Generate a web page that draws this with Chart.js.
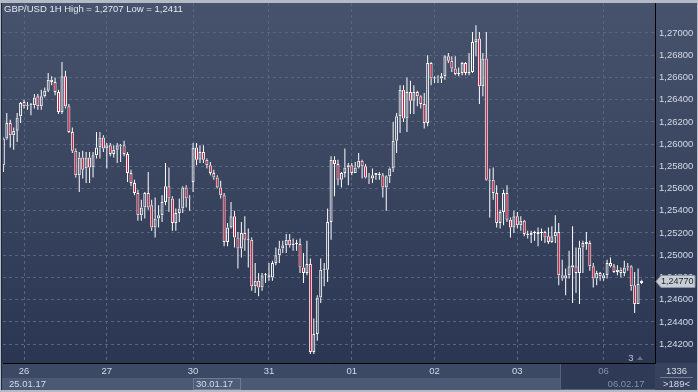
<!DOCTYPE html>
<html>
<head>
<meta charset="utf-8">
<script src="https://cdn.jsdelivr.net/npm/chart.js@4.4.1/dist/chart.umd.min.js"></script>
<style>
  html, body { margin: 0; padding: 0; background: #b4bbc6; }
  #wrap { width: 698px; height: 392px; }
</style>
</head>
<body>
<div id="wrap"><canvas id="chart" width="698" height="392"></canvas></div>
<script>
// GBP/USD 1H candles, 25.01.17 - 06.02.17
const opens = [
  1.2581,1.2605,1.2619,1.2608,1.2612,1.2625,1.2638,1.2634,1.2635,1.2635,
  1.2643,1.2634,1.2643,1.2648,1.2658,1.2656,1.2647,1.2629,1.2661,1.2634,
  1.2611,1.2594,1.2572,1.2588,1.2578,1.2588,1.2579,1.2590,1.2597,1.2606,
  1.2596,1.2599,1.2591,1.2595,1.2599,1.2599,1.2591,1.2574,1.2565,1.2556,
  1.2536,1.2543,1.2556,1.2545,1.2525,1.2533,1.2536,1.2548,1.2562,1.2551,
  1.2529,1.2538,1.2542,1.2561,1.2551,1.2566,1.2597,1.2586,1.2593,1.2586,
  1.2581,1.2574,1.2570,1.2561,1.2554,1.2512,1.2525,1.2535,1.2516,1.2506,
  1.2520,1.2514,1.2514,1.2472,1.2477,1.2471,1.2482,1.2482,1.2480,1.2493,
  1.2500,1.2506,1.2509,1.2514,1.2509,1.2510,1.2510,1.2489,1.2484,1.2492,
  1.2413,1.2429,1.2462,1.2487,1.2487,1.2530,1.2586,1.2582,1.2568,1.2574,
  1.2579,1.2581,1.2574,1.2579,1.2585,1.2580,1.2570,1.2569,1.2572,1.2572,
  1.2572,1.2561,1.2571,1.2578,1.2603,1.2625,1.2649,1.2623,1.2647,1.2639,
  1.2647,1.2643,1.2636,1.2619,1.2673,1.2659,1.2659,1.2659,1.2661,1.2679,
  1.2675,1.2668,1.2663,1.2664,1.2673,1.2664,1.2665,1.2692,1.2695,1.2652,
  1.2677,1.2568,1.2568,1.2556,1.2529,1.2539,1.2556,1.2532,1.2525,1.2535,
  1.2527,1.2531,1.2519,1.2518,1.2520,1.2519,1.2520,1.2521,1.2517,1.2512,
  1.2517,1.2521,1.2482,1.2479,1.2482,1.2489,1.2490,1.2484,1.2507,1.2512,
  1.2511,1.2490,1.2479,1.2484,1.2479,1.2482,1.2493,1.2490,1.2485,1.2487,
  1.2484,1.2489,1.2490,1.2473,1.2456,1.2475
];
const highs = [
  1.2606,1.2628,1.2622,1.2615,1.2628,1.2638,1.2640,1.2638,1.2637,1.2645,
  1.2645,1.2649,1.2651,1.2664,1.2661,1.2660,1.2649,1.2674,1.2666,1.2636,
  1.2615,1.2596,1.2593,1.2594,1.2593,1.2593,1.2593,1.2611,1.2611,1.2608,
  1.2601,1.2601,1.2599,1.2601,1.2600,1.2603,1.2593,1.2577,1.2568,1.2559,
  1.2550,1.2557,1.2575,1.2550,1.2552,1.2545,1.2554,1.2583,1.2579,1.2553,
  1.2542,1.2551,1.2562,1.2563,1.2554,1.2601,1.2601,1.2599,1.2599,1.2587,
  1.2584,1.2577,1.2572,1.2567,1.2556,1.2529,1.2548,1.2540,1.2521,1.2530,
  1.2535,1.2524,1.2516,1.2493,1.2484,1.2484,1.2484,1.2493,1.2495,1.2507,
  1.2513,1.2513,1.2519,1.2519,1.2515,1.2514,1.2515,1.2502,1.2513,1.2497,
  1.2443,1.2464,1.2497,1.2493,1.2542,1.2589,1.2589,1.2586,1.2575,1.2596,
  1.2583,1.2583,1.2584,1.2592,1.2586,1.2582,1.2574,1.2578,1.2574,1.2575,
  1.2574,1.2572,1.2579,1.2620,1.2628,1.2653,1.2653,1.2660,1.2657,1.2653,
  1.2648,1.2644,1.2646,1.2680,1.2674,1.2661,1.2662,1.2664,1.2680,1.2682,
  1.2679,1.2679,1.2669,1.2674,1.2674,1.2682,1.2701,1.2707,1.2701,1.2682,
  1.2701,1.2578,1.2579,1.2563,1.2541,1.2559,1.2563,1.2534,1.2540,1.2539,
  1.2535,1.2532,1.2522,1.2522,1.2522,1.2525,1.2524,1.2522,1.2525,1.2526,
  1.2536,1.2529,1.2496,1.2488,1.2504,1.2526,1.2507,1.2513,1.2513,1.2521,
  1.2513,1.2493,1.2486,1.2485,1.2484,1.2496,1.2498,1.2492,1.2491,1.2489,
  1.2495,1.2493,1.2491,1.2485,1.2488,1.2478
];
const lows = [
  1.2575,1.2604,1.2597,1.2595,1.2602,1.2619,1.2632,1.2631,1.2626,1.2632,
  1.2631,1.2631,1.2642,1.2647,1.2653,1.2644,1.2627,1.2627,1.2632,1.2610,
  1.2592,1.2570,1.2557,1.2569,1.2565,1.2565,1.2570,1.2587,1.2587,1.2593,
  1.2578,1.2589,1.2588,1.2583,1.2584,1.2589,1.2566,1.2562,1.2554,1.2531,
  1.2531,1.2533,1.2541,1.2522,1.2516,1.2525,1.2530,1.2545,1.2539,1.2522,
  1.2522,1.2530,1.2538,1.2543,1.2540,1.2557,1.2581,1.2583,1.2583,1.2578,
  1.2572,1.2568,1.2560,1.2551,1.2508,1.2508,1.2524,1.2507,1.2488,1.2498,
  1.2504,1.2489,1.2468,1.2466,1.2463,1.2468,1.2475,1.2477,1.2477,1.2491,
  1.2493,1.2502,1.2502,1.2507,1.2504,1.2504,1.2484,1.2475,1.2482,1.2411,
  1.2411,1.2423,1.2457,1.2472,1.2476,1.2514,1.2553,1.2563,1.2561,1.2570,
  1.2563,1.2572,1.2574,1.2578,1.2569,1.2569,1.2564,1.2565,1.2568,1.2568,
  1.2552,1.2540,1.2565,1.2575,1.2592,1.2610,1.2620,1.2611,1.2627,1.2627,
  1.2634,1.2632,1.2614,1.2616,1.2653,1.2655,1.2655,1.2655,1.2658,1.2673,
  1.2665,1.2662,1.2661,1.2662,1.2662,1.2662,1.2664,1.2679,1.2636,1.2643,
  1.2567,1.2534,1.2550,1.2525,1.2524,1.2527,1.2530,1.2516,1.2520,1.2524,
  1.2522,1.2517,1.2515,1.2511,1.2513,1.2508,1.2513,1.2511,1.2510,1.2511,
  1.2511,1.2473,1.2477,1.2464,1.2479,1.2457,1.2466,1.2456,1.2484,1.2505,
  1.2486,1.2471,1.2473,1.2477,1.2477,1.2479,1.2489,1.2484,1.2482,1.2480,
  1.2481,1.2486,1.2468,1.2448,1.2456,1.2474
];
const closes = [
  1.2605,1.2619,1.2608,1.2612,1.2624,1.2637,1.2634,1.2635,1.2635,1.2642,
  1.2634,1.2643,1.2648,1.2658,1.2656,1.2647,1.2629,1.2661,1.2634,1.2611,
  1.2594,1.2572,1.2588,1.2577,1.2588,1.2579,1.2590,1.2597,1.2606,1.2596,
  1.2599,1.2591,1.2595,1.2599,1.2598,1.2591,1.2574,1.2565,1.2556,1.2536,
  1.2543,1.2556,1.2543,1.2525,1.2533,1.2536,1.2548,1.2562,1.2551,1.2529,
  1.2538,1.2542,1.2561,1.2551,1.2552,1.2597,1.2586,1.2593,1.2586,1.2581,
  1.2574,1.2570,1.2561,1.2554,1.2512,1.2525,1.2535,1.2516,1.2506,1.2520,
  1.2514,1.2514,1.2472,1.2477,1.2471,1.2482,1.2482,1.2480,1.2493,1.2500,
  1.2506,1.2509,1.2514,1.2509,1.2510,1.2510,1.2489,1.2484,1.2492,1.2413,
  1.2429,1.2462,1.2487,1.2487,1.2530,1.2586,1.2582,1.2568,1.2574,1.2579,
  1.2581,1.2574,1.2579,1.2585,1.2580,1.2570,1.2569,1.2572,1.2574,1.2573,
  1.2561,1.2571,1.2578,1.2603,1.2625,1.2649,1.2623,1.2647,1.2639,1.2647,
  1.2643,1.2636,1.2619,1.2673,1.2659,1.2659,1.2660,1.2661,1.2679,1.2675,
  1.2668,1.2663,1.2664,1.2673,1.2664,1.2665,1.2692,1.2695,1.2652,1.2677,
  1.2568,1.2567,1.2556,1.2529,1.2539,1.2556,1.2532,1.2525,1.2535,1.2527,
  1.2531,1.2519,1.2518,1.2520,1.2520,1.2521,1.2521,1.2516,1.2512,1.2517,
  1.2521,1.2482,1.2479,1.2482,1.2490,1.2491,1.2484,1.2507,1.2511,1.2510,
  1.2490,1.2479,1.2484,1.2481,1.2482,1.2493,1.2490,1.2485,1.2487,1.2484,
  1.2489,1.2490,1.2472,1.2456,1.2474,1.2477
];

// first bar of each day, and its label
const dayTicks = [6, 30, 55, 77, 101, 125, 149, 174];
const dayLabels = ["26", "27", "30", "31", "01", "02", "03", "06"];
const priceTicks = [1.242, 1.244, 1.246, 1.248, 1.250, 1.252, 1.254, 1.256,
                    1.258, 1.260, 1.262, 1.264, 1.266, 1.268, 1.270];

const UP_FILL = "rgba(0,0,0,0)";
const DOWN_FILL = "#e8183a";
const TEXT = "#d3dbe8";

const idx = closes.map((c, i) => i);
const bodyTop = idx.map(i => Math.max(opens[i], closes[i]));
const bodyBot = idx.map(i => Math.min(opens[i], closes[i]));

const fmt = v => v.toFixed(5).replace(".", ",");

Chart.defaults.font.family = '"Liberation Sans", Arial, sans-serif';
Chart.defaults.font.size = 9.5;

// backgrounds, title, price tag and the little boxes MT4 draws
const chrome = {
  id: "chrome",
  beforeDraw(chart) {
    const c = chart.ctx, a = chart.chartArea, W = chart.width, H = chart.height;
    c.save();
    c.fillStyle = "#b4bbc6";
    c.fillRect(0, 0, W, H);
    const g = c.createLinearGradient(0, a.top, 0, a.bottom);
    g.addColorStop(0, "#47526c");
    g.addColorStop(1, "#2b3652");
    c.fillStyle = g;
    c.fillRect(2, a.top, W - 3, a.bottom - a.top);
    c.fillStyle = "#1f2636";
    c.fillRect(1, a.top, 1, H - a.top - 2);
    // time scale rows
    c.fillStyle = "#3c4965";
    c.fillRect(2, a.bottom, a.right - 2, 15);
    c.fillStyle = "#4b5975";
    c.fillRect(2, a.bottom + 15, a.right - 2, H - a.bottom - 17);
    // dark box at the right end of the time scale
    c.fillStyle = "#2e3a56";
    c.fillRect(561, a.bottom + 1, a.right - 561, H - a.bottom - 3);
    c.strokeStyle = "#55627d";
    c.strokeRect(560.5, a.bottom + 0.5, a.right - 560, H - a.bottom - 3);
    // 30.01.17 box
    c.fillStyle = "#4e5c78";
    c.fillRect(193, a.bottom + 15, 48, H - a.bottom - 17);
    c.strokeStyle = "#6d7a95";
    c.strokeRect(193.5, a.bottom + 15.5, 47, H - a.bottom - 18);
    // bottom right corner box
    c.fillStyle = "#36425e";
    c.fillRect(a.right, a.bottom, W - a.right - 1, H - a.bottom - 2);
    c.restore();
  },
  afterDraw(chart) {
    const c = chart.ctx, a = chart.chartArea, W = chart.width, H = chart.height;
    const x = chart.scales.x, y = chart.scales.y;
    c.save();
    c.font = '9.5px "Liberation Sans", Arial, sans-serif';
    c.textBaseline = "middle";
    c.fillStyle = "#e2e8f1";
    c.textAlign = "left";
    c.fillText("GBP/USD 1H High = 1,2707 Low = 1,2411", 4, 9);

    // date row
    c.fillStyle = TEXT;
    c.fillText("25.01.17", 9, a.bottom + 21);
    c.fillText("30.01.17", x.getPixelForValue(dayTicks[2]) + 3, a.bottom + 21);
    c.fillStyle = "#8491a8";
    c.fillText("06.02.17", x.getPixelForValue(dayTicks[7]) + 4, a.bottom + 21);

    // bars count box
    c.fillStyle = TEXT;
    c.textAlign = "center";
    c.fillText("1336", (a.right + W) / 2, a.bottom + 8);
    c.fillText(">189<", (a.right + W) / 2, a.bottom + 21);
    c.strokeStyle = "#707d97";
    c.beginPath();
    c.moveTo(a.right + 5, a.bottom + 14.5);
    c.lineTo(W - 5, a.bottom + 14.5);
    c.stroke();

    // "3" marker near the bottom right
    c.fillStyle = "#b9c2d2";
    c.fillText("3", 631, a.bottom - 5);
    c.fillStyle = "#66728b";
    c.beginPath();
    c.moveTo(637, a.bottom - 3);
    c.lineTo(640, a.bottom - 7);
    c.lineTo(643, a.bottom - 3);
    c.fill();

    // last price tag
    const last = closes[closes.length - 1];
    const py = Math.round(y.getPixelForValue(last)) + 0.5;
    c.beginPath();
    c.moveTo(a.right + 1, py);
    c.lineTo(a.right + 6, py - 6);
    c.lineTo(W - 3, py - 6);
    c.lineTo(W - 3, py + 6);
    c.lineTo(a.right + 6, py + 6);
    c.closePath();
    c.fillStyle = "#c9cdd4";
    c.fill();
    c.strokeStyle = "#8c94a2";
    c.stroke();
    c.fillStyle = "#1c2536";
    c.textAlign = "left";
    c.font = '9px "Liberation Sans", Arial, sans-serif';
    c.fillText(fmt(last), a.right + 6, py + 0.5);
    c.restore();
  }
};

new Chart(document.getElementById("chart"), {
  type: "bar",
  data: {
    datasets: [
      {
        label: "upper wick",
        data: idx.map(i => ({ x: i, y: [bodyTop[i], highs[i]] })),
        backgroundColor: "#ffffff",
        barThickness: 1,
        borderWidth: 0,
        inflateAmount: 0,
        grouped: false,
        order: 2
      },
      {
        label: "lower wick",
        data: idx.map(i => ({ x: i, y: [lows[i], bodyBot[i]] })),
        backgroundColor: "#ffffff",
        barThickness: 1,
        borderWidth: 0,
        inflateAmount: 0,
        grouped: false,
        order: 2
      },
      {
        label: "body",
        data: idx.map(i => ({ x: i, y: [bodyBot[i], bodyTop[i]] })),
        backgroundColor: idx.map(i => closes[i] < opens[i] ? DOWN_FILL : UP_FILL),
        borderColor: "#ffffff",
        borderWidth: 1,
        borderSkipped: false,
        barThickness: 3,
        minBarLength: 1,
        inflateAmount: 0,
        grouped: false,
        order: 1
      }
    ]
  },
  options: {
    responsive: false,
    animation: false,
    devicePixelRatio: 1,
    layout: { padding: { left: 3, top: 3, right: 0, bottom: 0 } },
    plugins: { legend: { display: false }, tooltip: { enabled: false } },
    scales: {
      x: {
        type: "linear",
        min: -0.1,
        max: 188.9,
        offset: false,
        grid: { color: "#58657f", offset: false, drawTicks: false },
        border: { color: "#000000", width: 1, dash: [3, 3] },
        afterBuildTicks: s => { s.ticks = dayTicks.map(v => ({ value: v })); },
        afterFit: s => { s.height = 29; s.paddingLeft = 0; s.paddingRight = 0; },
        ticks: {
          autoSkip: false,
          maxRotation: 0,
          padding: 3,
          color: ctx => (ctx.tick && ctx.tick.value === dayTicks[7]) ? "#8491a8" : TEXT,
          callback: v => dayLabels[dayTicks.indexOf(v)] || ""
        }
      },
      y: {
        position: "right",
        min: 1.2403,
        max: 1.2727,
        grid: { color: "#58657f", drawTicks: false },
        border: { color: "#000000", width: 1, dash: [3, 3] },
        afterBuildTicks: s => { s.ticks = priceTicks.map(v => ({ value: v })); },
        afterFit: s => { s.width = 43; s.paddingTop = 0; s.paddingBottom = 0; },
        ticks: {
          padding: 4,
          color: TEXT,
          callback: v => fmt(v)
        }
      }
    }
  },
  plugins: [chrome]
});
</script>
</body>
</html>
